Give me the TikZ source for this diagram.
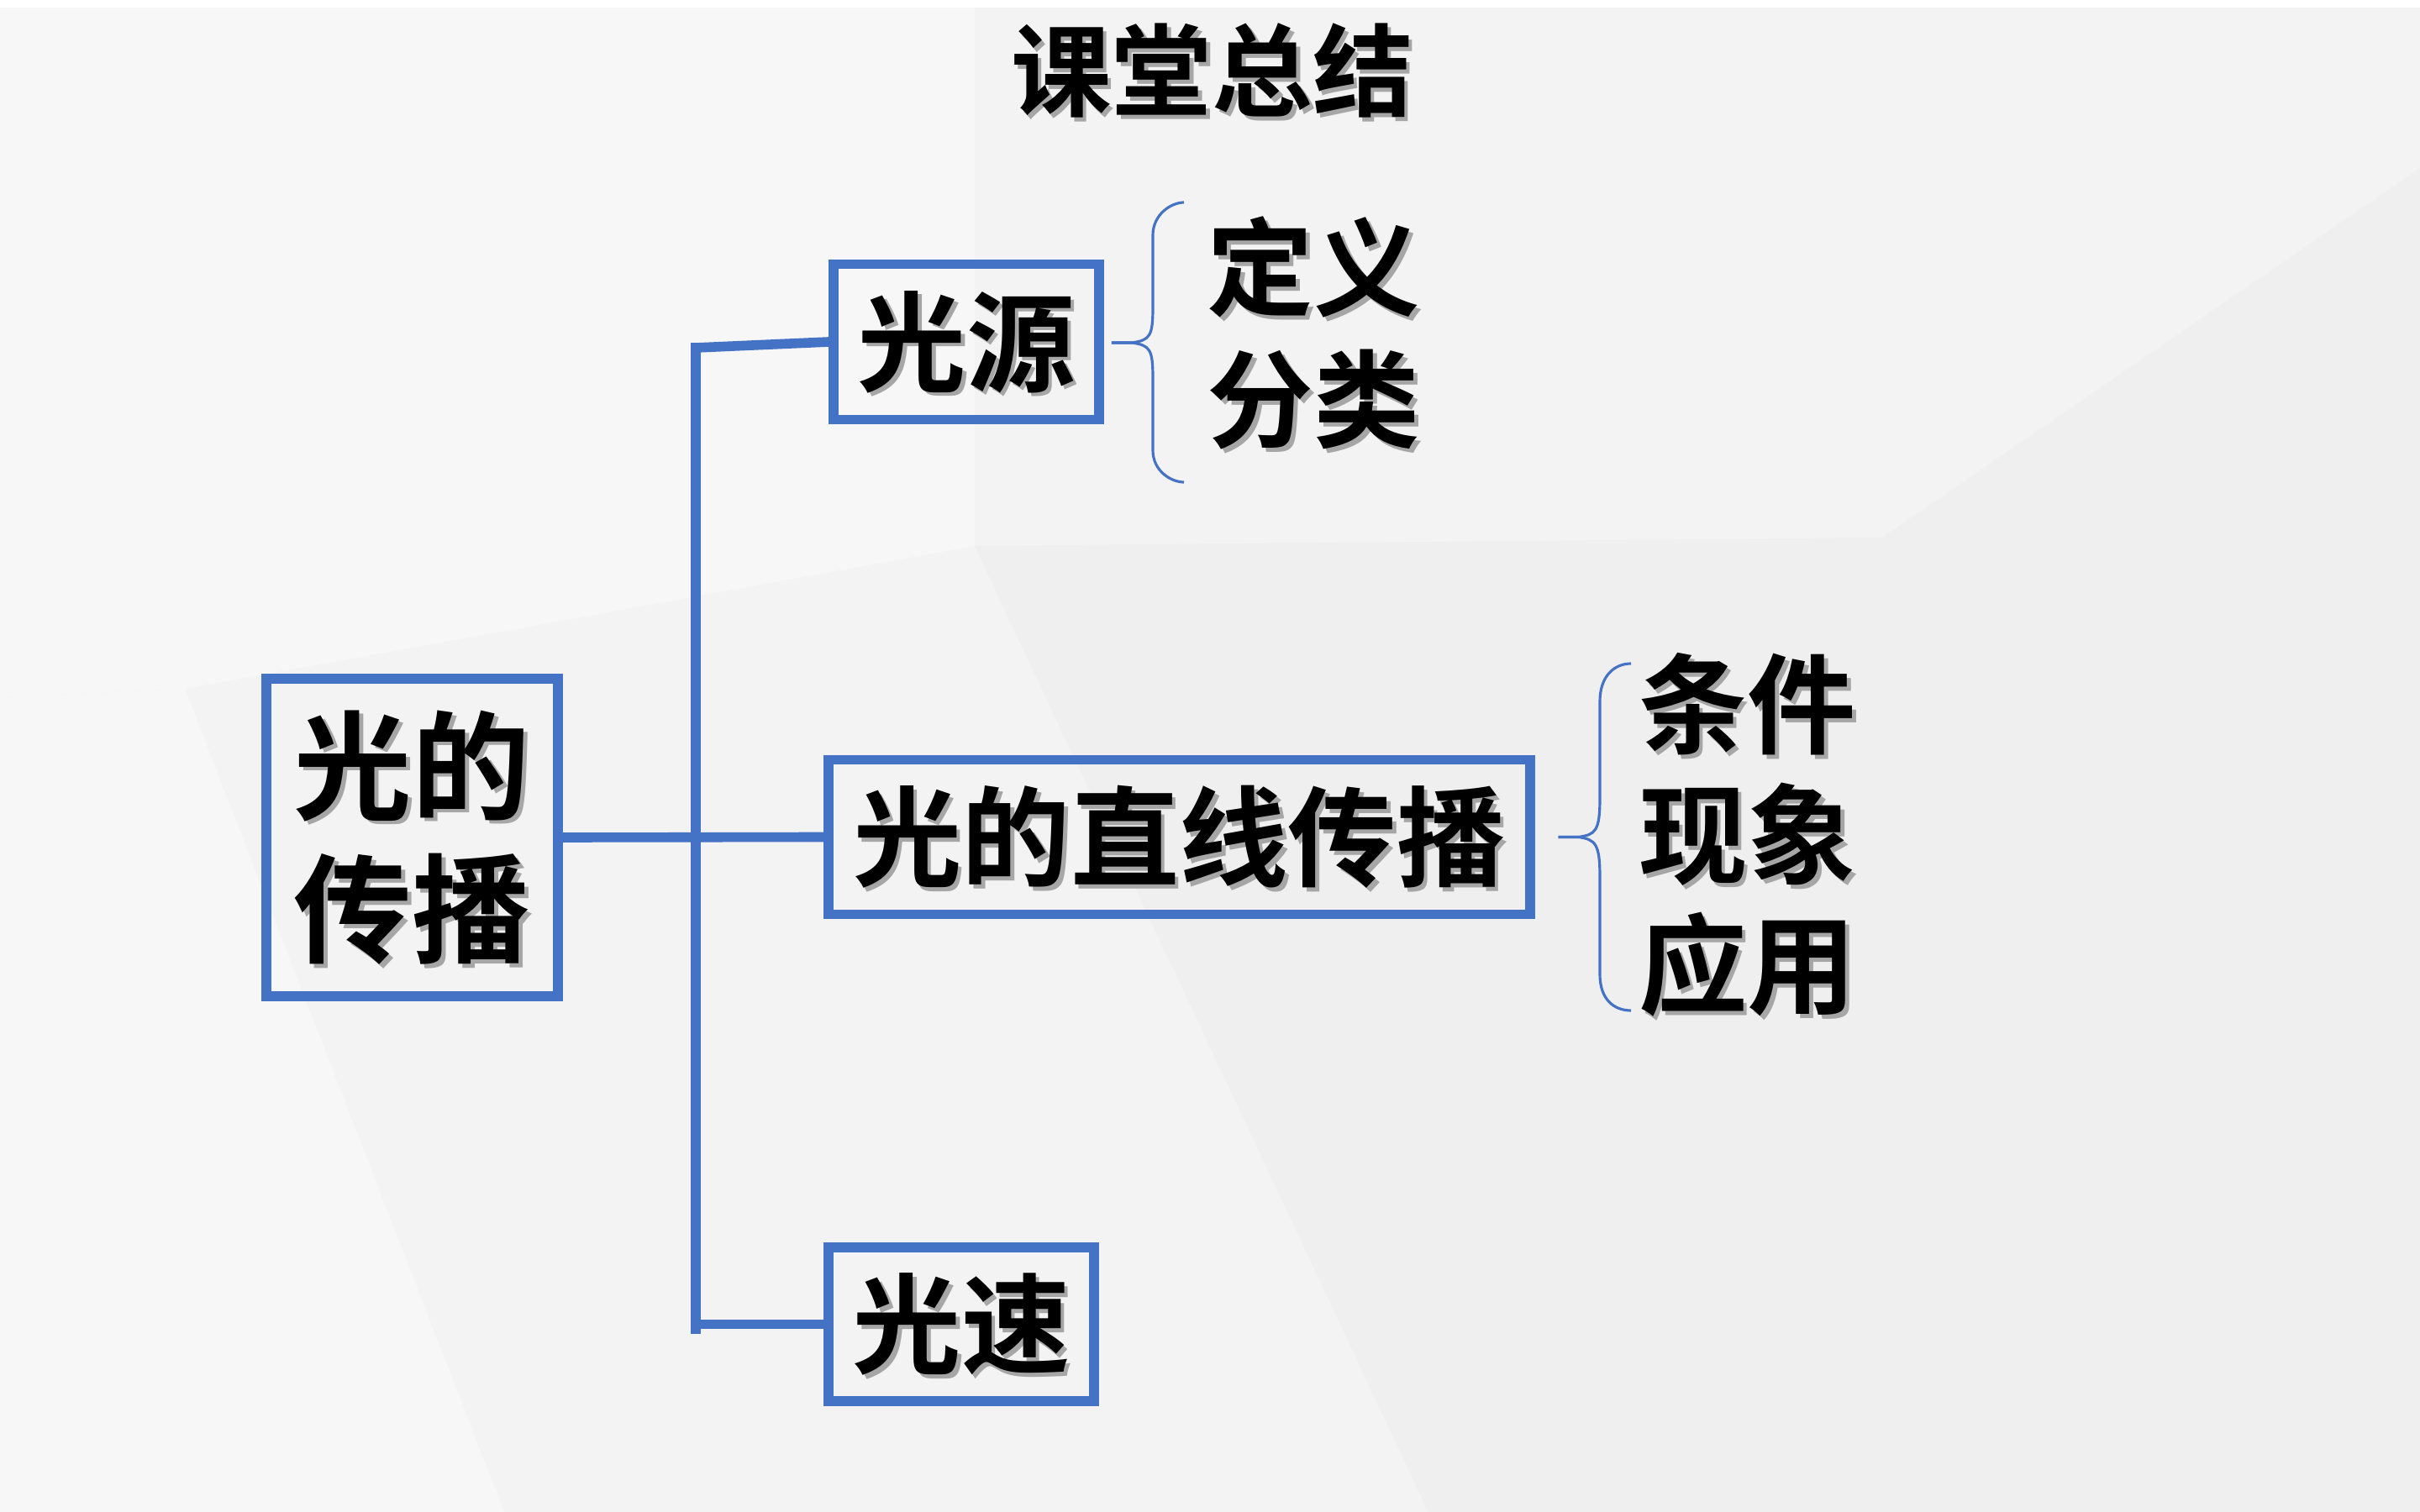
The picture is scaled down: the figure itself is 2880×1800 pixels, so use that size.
\documentclass[tikz,border=0pt]{standalone}
\usepackage{fontspec}
\newfontfamily\cjk{Noto Sans CJK SC}[BoldFont={Noto Sans CJK SC Bold}]
\usetikzlibrary{calc}
\definecolor{boxblue}{HTML}{4472C4}
\definecolor{bgbase}{HTML}{F3F3F3}
\definecolor{bglight}{HTML}{F7F7F7}
\definecolor{bgdark}{HTML}{EFEFEF}
\newcommand\shd[1]{\rlap{\kern1.3pt\smash{\raisebox{-1.3pt}{\textcolor{black!35}{#1}}}}#1}
\tikzset{
  box/.style={draw=boxblue, line width=3.3pt, inner sep=0pt, align=center, text=black},
  trunk/.style={draw=boxblue, line width=3.3pt},
  bracepath/.style={draw=boxblue, line width=0.9pt},
  lbl/.style={inner sep=0pt, align=center, text=black},
  bigfont/.style={font=\cjk\bfseries\fontsize{40}{48.5}\selectfont},
  midfont/.style={font=\cjk\bfseries\fontsize{36.8}{44}\selectfont},
}
\begin{document}
\begin{tikzpicture}[x=0.01cm, y=-0.01cm]
\useasboundingbox (0,0) rectangle (2880,1800);
% background
\fill[bgbase] (0,0) rectangle (2880,1800);
\fill[bglight] (0,9) -- (1160,9) -- (1160,650) -- (220,820) -- (0,830) -- cycle;
\fill[bgdark] (1160,650) -- (2240,640) -- (2880,900) -- (2880,1800) -- (1700,1800) -- cycle;
\fill[bglight] (0,830) -- (220,820) -- (600,1800) -- (0,1800) -- cycle;
\fill[bgdark] (2240,640) -- (2880,200) -- (2880,900) -- cycle;
\fill[white] (0,0) rectangle (2880,9);

% title
\node[lbl, font=\cjk\bfseries\fontsize{34}{40}\selectfont] (title) at (1442.5,84) {\shd{课堂总结}};

% boxes
\node[box, bigfont, minimum width=3.47cm, minimum height=3.78cm] (main) at (490.5,997) {\shd{光的}\\\shd{传播}};
\node[box, midfont, minimum width=3.16cm, minimum height=1.85cm] (src) at (1150,407) {\shd{光源}};
\node[box, midfont, minimum width=8.34cm, minimum height=1.84cm] (mid) at (1403.5,996.5) {\shd{光的直线传播}};
\node[box, midfont, minimum width=3.16cm, minimum height=1.83cm] (spd) at (1144,1576.5) {\shd{光速}};

% lists
\node[lbl, font=\cjk\bfseries\fontsize{36}{44.7}\selectfont] (l1) at (1563.5,396.5) {\shd{定义}\\\shd{分类}};
\node[lbl, midfont] (l2) at (2079.5,994) {\shd{条件}\\\shd{现象}\\\shd{应用}};

% trunk and branches
\coordinate (jtop) at (828,408);
\coordinate (jt) at (828,414);
\coordinate (jb) at (828,1576.5);
\coordinate (je) at (828,1588);
\draw[trunk] (jtop) -- (je);
\draw[trunk] (jt) -- (src.west);
\draw[trunk] (main.east) -- (mid.west);
\draw[trunk] (jb) -- (spd.west);

% braces
\coordinate (b1) at ($(src.east)+(9,1)$);
\draw[bracepath] (b1) -- ++(24,0) .. controls +(22,-3) and +(0,35) .. (1372,365) -- (1372,280) .. controls +(0,-25) and +(-15,0) .. (1409,241);
\draw[bracepath] (b1) -- ++(24,0) .. controls +(22,3) and +(0,-35) .. (1372,451) -- (1372,536) .. controls +(0,25) and +(-15,0) .. (1409,574);
\coordinate (b2) at ($(mid.east)+(28,0)$);
\draw[bracepath] (b2) -- ++(24,0) .. controls +(20,-3) and +(0,40) .. (1904,950) -- (1904,835) .. controls +(0,-30) and +(-20,0) .. (1941,790);
\draw[bracepath] (b2) -- ++(24,0) .. controls +(20,3) and +(0,-40) .. (1904,1044) -- (1904,1160) .. controls +(0,30) and +(-20,0) .. (1941,1203);
\end{tikzpicture}
\end{document}
